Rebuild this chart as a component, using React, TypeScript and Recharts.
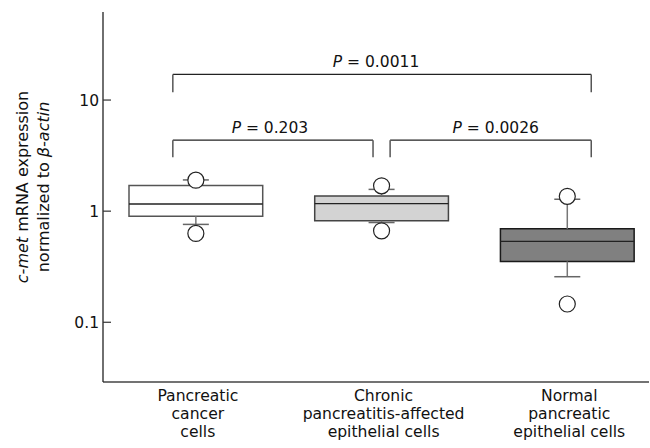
import { ComposedChart, XAxis, YAxis, Scatter, ReferenceArea, ReferenceLine } from 'recharts';

// groups along the x axis, one label line per entry
const categories = [
  ['Pancreatic', 'cancer', 'cells'],
  ['Chronic', 'pancreatitis-affected', 'epithelial cells'],
  ['Normal', 'pancreatic', 'epithelial cells'],
];

// box plot statistics (log scale values)
const lowerWhisker = [0.76, 0.79, 0.257];
const q1 = [0.9, 0.82, 0.353];
const median = [1.16, 1.17, 0.534];
const q3 = [1.7, 1.37, 0.693];
const upperWhisker = [1.91, 1.57, 1.28];
const outliers = [
  [1.9, 0.63],
  [1.69, 0.665],
  [1.36, 0.146],
];

const yTicks = [0.1, 1, 10];

const comparisons = [
  { from: 0, to: 2, p: '0.0011' },
  { from: 0, to: 1, p: '0.203' },
  { from: 1, to: 2, p: '0.0026' },
];

// styling
const FONT = '"DejaVu Sans", Verdana, sans-serif';
const boxFill = ['#ffffff', '#d3d3d3', '#808080'];
const boxStroke = ['#555555', '#444444', '#1a1a1a'];
const BOX_HALF = 0.36;
const CAP_HALF = 0.07;
// bracket top / drop levels, end offsets and label nudges, per comparison
const bracketTop = [17, 4.35, 4.35];
const bracketDrop = [11.75, 3.06, 3.06];
const bracketEnds = [
  [-0.124, 0.129],
  [-0.124, -0.046],
  [0.046, 0.129],
];
const labelShift = [-6, -3, 5];

const outlierData = outliers.flatMap((vals, i) => vals.map((v) => ({ x: i, y: v })));

const YTick = (props: any) => {
  const { x, y, payload } = props;
  return (
    <g>
      <line x1={x + 4} x2={x + 12} y1={y} y2={y} stroke="#333" strokeWidth={1.2} />
      <text x={x} y={y} dy="0.36em" textAnchor="end" fontSize={15.5} fontFamily={FONT} fill="#111">
        {payload.value}
      </text>
    </g>
  );
};

const XTick = (props: any) => {
  const { x, y, payload } = props;
  const lines = categories[payload.value] || [];
  return (
    <text x={x + 2} y={y} textAnchor="middle" fontSize={15.6} fontFamily={FONT} fill="#111">
      {lines.map((l, k) => (
        <tspan key={k} x={x + 2} dy={k === 0 ? 19 : 18}>
          {l}
        </tspan>
      ))}
    </text>
  );
};

const YLabel = (props: any) => {
  const { viewBox } = props;
  const cy = viewBox.y + viewBox.height / 2 - 10;
  const x1 = viewBox.x + 28;
  const x2 = viewBox.x + 49;
  return (
    <g fontSize={16} fontFamily={FONT} fill="#111">
      <text x={x1} y={cy} textAnchor="middle" transform={`rotate(-90, ${x1}, ${cy})`}>
        <tspan fontStyle="italic">c-met</tspan> mRNA expression
      </text>
      <text x={x2} y={cy} textAnchor="middle" transform={`rotate(-90, ${x2}, ${cy})`}>
        normalized to <tspan fontStyle="italic">β-actin</tspan>
      </text>
    </g>
  );
};

const pLabel = (p: string, shift: number) => (props: any) => {
  const { viewBox } = props;
  const cx = viewBox.x + viewBox.width / 2 + shift;
  return (
    <text x={cx} y={viewBox.y - 7} textAnchor="middle" fontSize={15.5} fontFamily={FONT} fill="#111">
      <tspan fontStyle="italic">P</tspan>
      {' = ' + p}
    </text>
  );
};

export default function App() {
  return (
    <div style={{ position: 'absolute', left: 0, top: 0, width: 650, height: 448, background: '#fff' }}>
      <ComposedChart width={650} height={448} margin={{ top: 12, right: 1, bottom: 0, left: 0 }}>
        <XAxis
          type="number"
          dataKey="x"
          domain={[-0.5, 2.44]}
          ticks={[0, 1, 2]}
          allowDataOverflow
          height={66}
          tickLine={false}
          tickSize={0}
          tickMargin={0}
          tick={<XTick />}
          axisLine={{ stroke: '#444', strokeWidth: 1.3 }}
        />
        <YAxis
          type="number"
          dataKey="y"
          scale="log"
          domain={[0.029, 62]}
          ticks={yTicks}
          allowDataOverflow
          width={103}
          tickLine={false}
          tickSize={0}
          tickMargin={4}
          tick={<YTick />}
          axisLine={{ stroke: '#222', strokeWidth: 1.3 }}
          label={<YLabel />}
        />

        {categories.map((_, i) => (
          <ReferenceLine
            key={`wu${i}`}
            segment={[{ x: i, y: q3[i] }, { x: i, y: upperWhisker[i] }]}
            stroke="#777"
            strokeWidth={1.5}
          />
        ))}
        {categories.map((_, i) => (
          <ReferenceLine
            key={`wl${i}`}
            segment={[{ x: i, y: q1[i] }, { x: i, y: lowerWhisker[i] }]}
            stroke="#777"
            strokeWidth={1.5}
          />
        ))}
        {categories.map((_, i) => (
          <ReferenceLine
            key={`cu${i}`}
            segment={[{ x: i - CAP_HALF, y: upperWhisker[i] }, { x: i + CAP_HALF, y: upperWhisker[i] }]}
            stroke="#666"
            strokeWidth={1.5}
          />
        ))}
        {categories.map((_, i) => (
          <ReferenceLine
            key={`cl${i}`}
            segment={[{ x: i - CAP_HALF, y: lowerWhisker[i] }, { x: i + CAP_HALF, y: lowerWhisker[i] }]}
            stroke="#666"
            strokeWidth={1.5}
          />
        ))}
        {categories.map((_, i) => (
          <ReferenceArea
            key={`b${i}`}
            x1={i - BOX_HALF}
            x2={i + BOX_HALF}
            y1={q1[i]}
            y2={q3[i]}
            fill={boxFill[i]}
            fillOpacity={1}
            stroke={boxStroke[i]}
            strokeWidth={1.5}
          />
        ))}
        {categories.map((_, i) => (
          <ReferenceLine
            key={`m${i}`}
            segment={[{ x: i - BOX_HALF, y: median[i] }, { x: i + BOX_HALF, y: median[i] }]}
            stroke="#222"
            strokeWidth={1.3}
          />
        ))}

        {comparisons.map((c, k) => {
          const xa = c.from + bracketEnds[k][0];
          const xb = c.to + bracketEnds[k][1];
          return [
            <ReferenceLine
              key={`bh${k}`}
              segment={[{ x: xa, y: bracketTop[k] }, { x: xb, y: bracketTop[k] }]}
              stroke="#222"
              strokeWidth={1.3}
              label={pLabel(c.p, labelShift[k])}
            />,
            <ReferenceLine
              key={`bl${k}`}
              segment={[{ x: xa, y: bracketTop[k] }, { x: xa, y: bracketDrop[k] }]}
              stroke="#555"
              strokeWidth={1.5}
            />,
            <ReferenceLine
              key={`br${k}`}
              segment={[{ x: xb, y: bracketTop[k] }, { x: xb, y: bracketDrop[k] }]}
              stroke="#555"
              strokeWidth={1.5}
            />,
          ];
        })}

        <Scatter
          data={outlierData}
          isAnimationActive={false}
          shape={(p: any) => <circle cx={p.cx} cy={p.cy} r={8} fill="#fff" stroke="#222" strokeWidth={1.2} />}
        />
      </ComposedChart>
    </div>
  );
}
